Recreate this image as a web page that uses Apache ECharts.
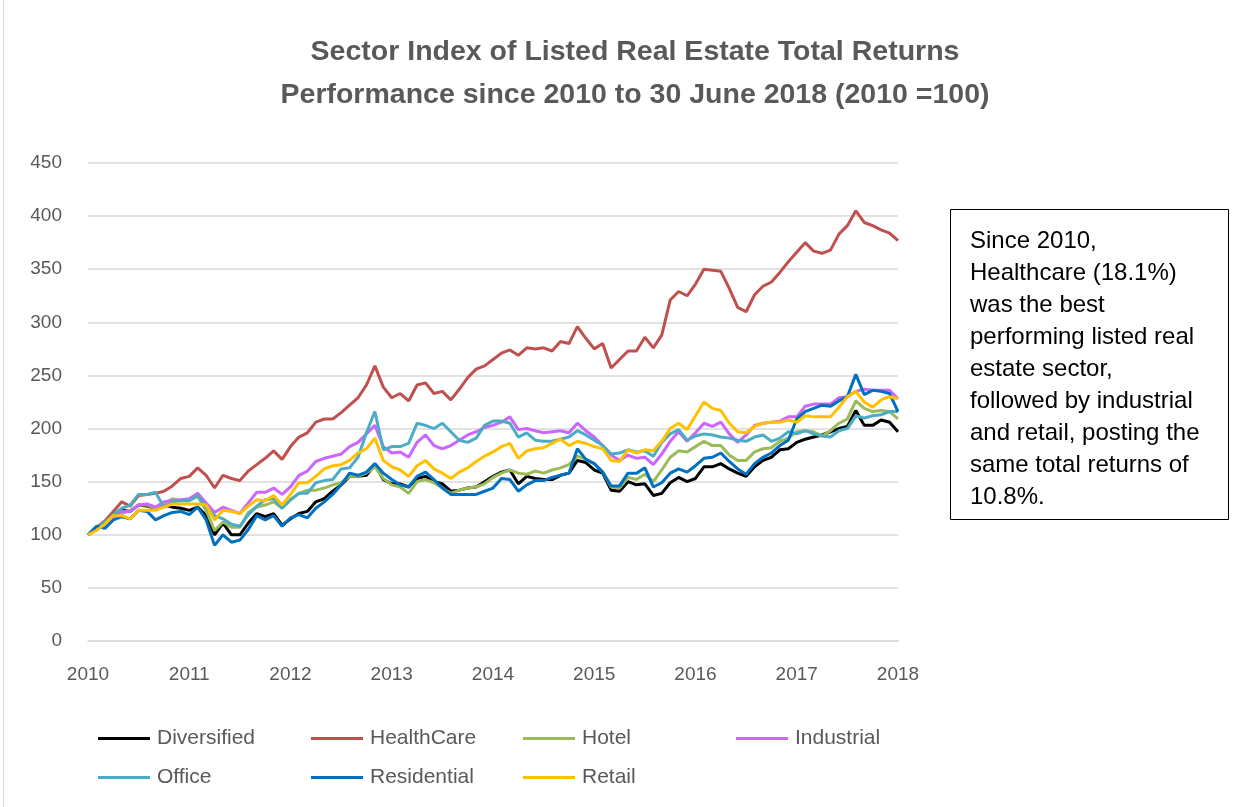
<!DOCTYPE html>
<html>
<head>
<meta charset="utf-8">
<title>Sector Index of Listed Real Estate Total Returns</title>
<script src="https://cdn.jsdelivr.net/npm/echarts@6/dist/echarts.min.js"></script>
<style>
  html, body { margin: 0; padding: 0; background: #fff; }
  #chart { width: 1250px; height: 807px; }
</style>
</head>
<body>
<div id="chart"></div>
<script>
  // year tick labels, one label every 12 months
  var years = ['2010', '2011', '2012', '2013', '2014', '2015', '2016', '2017', '2018']

  // monthly categories, Jan 2010 .. Jan 2018
  var months = []
  years.forEach(function (y, k) {
    var last = k === years.length - 1 ? 1 : 12
    for (var m = 1; m <= last; m++) {
      months.push(y + '-' + (m < 10 ? '0' + m : m))
    }
  })

  // index values (2010 = 100)
  var diversified = [
    100, 105, 111, 119, 123, 122, 128, 127, 125, 128, 126, 125, 123,
    126, 118, 100, 111, 100, 100, 111, 120, 117, 120, 109, 115,
    120, 122, 131, 134, 141, 147, 155, 155, 156, 166, 152, 148,
    148, 145, 153, 155, 150, 148, 141, 142, 144, 145, 150, 155,
    159, 161, 148, 155, 153, 152, 152, 156, 158, 170, 168, 161,
    158, 142, 141, 150, 147, 148, 137, 139, 149, 154, 150, 153,
    164, 164, 167, 162, 158, 155, 164, 170, 173, 180, 181, 187,
    190, 192, 194, 197, 200, 202, 217, 203, 203, 208, 206, 197
  ]
  var healthcare = [
    100, 107, 113, 122, 131, 127, 137, 138, 139, 141, 146, 153, 155,
    163, 156, 144, 156, 153, 151, 160, 166, 172, 179, 171, 183,
    192, 196, 206, 209, 209, 215, 222, 229, 241, 259, 239, 229,
    233, 226, 241, 243, 233, 235, 227, 237, 248, 256, 259, 265,
    271, 274, 269, 276, 275, 276, 273, 282, 280, 296, 285, 275,
    280, 257, 265, 273, 273, 286, 276, 288, 321, 329, 325, 336,
    350, 349, 348, 332, 314, 310, 326, 334, 338, 347, 357, 366,
    375, 367, 365, 368, 383, 391, 405, 394, 391, 387, 384, 377
  ]
  var hotel = [
    100, 105, 110, 118, 120, 123, 128, 128, 125, 129, 134, 132, 133,
    136, 123, 104, 112, 107, 107, 121, 126, 128, 131, 125, 133,
    139, 142, 142, 144, 147, 149, 155, 155, 158, 164, 153, 147,
    145, 139, 150, 152, 149, 144, 139, 142, 144, 145, 148, 154,
    158, 161, 158, 157, 160, 158, 161, 163, 166, 174, 171, 167,
    159, 145, 144, 154, 152, 157, 150, 161, 173, 179, 178, 183,
    188, 184, 184, 175, 170, 170, 178, 181, 182, 188, 191, 197,
    198, 197, 193, 198, 205, 209, 226, 219, 216, 217, 216, 209
  ]
  var industrial = [
    100, 105, 110, 117, 122, 122, 128, 129, 126, 131, 132, 133, 134,
    139, 130, 121, 126, 123, 120, 130, 140, 140, 144, 138, 145,
    156, 160, 169, 172, 174, 176, 183, 187, 195, 203, 183, 177,
    178, 173, 187, 194, 184, 181, 184, 189, 194, 197, 201, 203,
    206, 211, 199, 200, 198, 196, 197, 198, 196, 205, 198, 192,
    184, 175, 170, 175, 172, 173, 166, 176, 188, 197, 188, 196,
    205, 202, 206, 195, 187, 194, 203, 205, 206, 207, 211, 211,
    221, 223, 223, 223, 229, 230, 235, 237, 236, 236, 236, 228
  ]
  var office = [
    100, 106, 112, 119, 125, 128, 138, 138, 140, 126, 131, 132, 132,
    137, 126, 118, 115, 110, 108, 119, 127, 133, 134, 125, 133,
    139, 139, 149, 151, 152, 162, 163, 173, 196, 216, 180, 183,
    183, 186, 205, 203, 200, 205, 197, 189, 187, 191, 203, 207,
    207, 205, 192, 196, 189, 188, 188, 190, 192, 198, 194, 189,
    184, 176, 177, 180, 178, 179, 174, 187, 195, 199, 189, 193,
    195, 194, 192, 191, 189, 188, 192, 194, 188, 191, 197, 195,
    198, 195, 193, 192, 198, 200, 212, 210, 212, 213, 216, 216
  ]
  var residential = [
    100, 108, 106, 114, 117, 115, 123, 122, 114, 118, 121, 122, 119,
    126, 114, 90, 100, 93, 95, 105, 118, 114, 118, 108, 116,
    119, 116, 125, 131, 138, 147, 158, 156, 159, 167, 158, 152,
    147, 145, 155, 159, 152, 144, 138, 138, 138, 138, 141, 144,
    153, 152, 141, 147, 151, 151, 154, 156, 158, 181, 171, 167,
    159, 146, 146, 158, 158, 163, 145, 149, 158, 162, 159, 165,
    172, 173, 177, 169, 162, 157, 167, 173, 177, 184, 189, 209,
    216, 219, 222, 221, 226, 230, 251, 232, 236, 235, 233, 216
  ]
  var retail = [
    100, 104, 110, 118, 118, 115, 123, 123, 123, 126, 129, 129, 129,
    129, 128, 114, 123, 122, 120, 127, 133, 132, 137, 128, 138,
    149, 149, 155, 162, 165, 166, 170, 177, 181, 191, 170, 164,
    161, 155, 165, 170, 162, 158, 153, 159, 163, 169, 174, 178,
    183, 186, 172, 179, 181, 182, 186, 190, 184, 188, 186, 183,
    181, 170, 169, 180, 177, 180, 179, 188, 200, 205, 199, 212,
    225, 219, 217, 205, 197, 196, 202, 205, 206, 206, 208, 206,
    212, 211, 211, 211, 220, 230, 235, 225, 220, 227, 230, 228
  ]

  var noteLines = [
    'Since 2010,',
    'Healthcare (18.1%)',
    'was the best',
    'performing listed real',
    'estate sector,',
    'followed by industrial',
    'and retail, posting the',
    'same total returns of',
    '10.8%.'
  ]

  var font = 'Liberation Sans, Arial, sans-serif'
  var textColor = '#595959'
  var gridColor = '#d9d9d9'

  function makeSeries (name, data, color) {
    return {
      name: name,
      type: 'line',
      data: data,
      symbol: 'none',
      lineStyle: { width: 3, color: color },
      itemStyle: { color: color },
      emphasis: { disabled: true }
    }
  }

  // one legend per column, two rows
  function makeLegend (names, left) {
    return {
      data: names,
      orient: 'vertical',
      left: left,
      top: 728,
      padding: 0,
      itemGap: 18,
      itemWidth: 52,
      itemHeight: 3,
      icon: 'rect',
      textStyle: { fontFamily: font, fontSize: 21, color: textColor, padding: [0, 0, 0, 2] }
    }
  }

  var chart = echarts.init(document.getElementById('chart'))
  chart.setOption({
    animation: false,
    title: {
      text: 'Sector Index of Listed Real Estate Total Returns\nPerformance since 2010 to 30 June 2018 (2010 =100)',
      left: 630,
      textAlign: 'center',
      top: 26,
      textStyle: {
        fontFamily: font,
        fontSize: 28.5,
        fontWeight: 'bold',
        color: textColor,
        lineHeight: 43
      }
    },
    legend: [
      makeLegend(['Diversified', 'Office'], 98),
      makeLegend(['HealthCare', 'Residential'], 311),
      makeLegend(['Hotel', 'Retail'], 523),
      makeLegend(['Industrial'], 736)
    ],
    grid: { left: 88, right: 352, top: 163, bottom: 166 },
    xAxis: {
      type: 'category',
      data: months,
      boundaryGap: false,
      axisLine: { lineStyle: { color: gridColor, width: 1.5 } },
      axisTick: { show: false },
      axisLabel: {
        interval: 11,
        formatter: function (v) { return v.slice(0, 4) },
        fontFamily: font,
        fontSize: 19,
        color: textColor,
        margin: 24
      },
      splitLine: { show: false }
    },
    yAxis: {
      type: 'value',
      min: 0,
      max: 450,
      interval: 50,
      axisLine: { show: false },
      axisTick: { show: false },
      axisLabel: { fontFamily: font, fontSize: 19, color: textColor, margin: 26 },
      splitLine: { lineStyle: { color: gridColor, width: 1.5 } }
    },
    series: [
      makeSeries('Diversified', diversified, '#000000'),
      makeSeries('HealthCare', healthcare, '#c0504d'),
      makeSeries('Hotel', hotel, '#9bbb59'),
      makeSeries('Industrial', industrial, '#cc66ff'),
      makeSeries('Office', office, '#4bacc6'),
      makeSeries('Residential', residential, '#0070c0'),
      makeSeries('Retail', retail, '#ffc000')
    ],
    graphic: [
      // outer chart border (left edge visible)
      { type: 'line', shape: { x1: 3.5, y1: 0, x2: 3.5, y2: 807 }, style: { stroke: gridColor, lineWidth: 1 } },
      // note box
      {
        type: 'rect',
        shape: { x: 950.5, y: 209.5, width: 278, height: 310 },
        style: { fill: '#fff', stroke: '#000', lineWidth: 1 }
      },
      {
        type: 'text',
        x: 970,
        y: 225,
        style: {
          text: noteLines.join('\n'),
          fontFamily: font,
          fontSize: 24,
          lineHeight: 32,
          fill: '#000'
        }
      }
    ]
  })
</script>
</body>
</html>
